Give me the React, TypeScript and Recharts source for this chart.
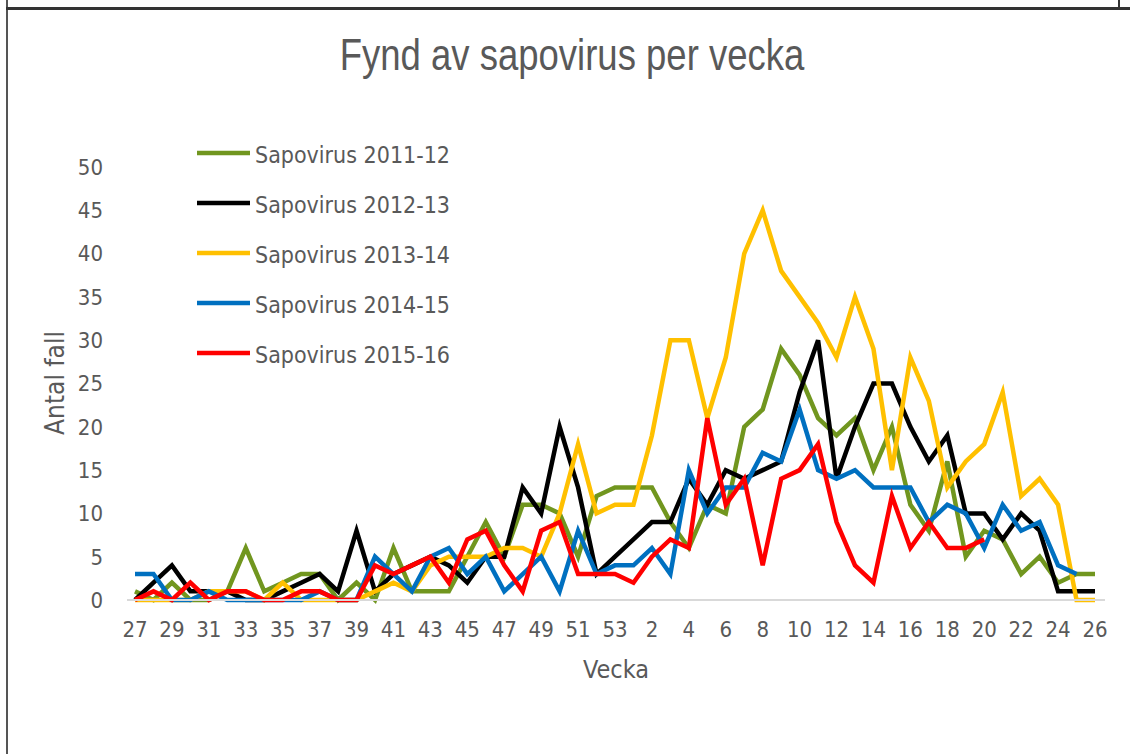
import { LineChart, Line, XAxis, YAxis, Legend } from 'recharts';

// veckor 27-53, sedan 1-26
const weeks = [
  '27', '28', '29', '30', '31', '32', '33', '34', '35', '36', '37', '38', '39', '40',
  '41', '42', '43', '44', '45', '46', '47', '48', '49', '50', '51', '52', '53',
  '1', '2', '3', '4', '5', '6', '7', '8', '9', '10', '11', '12', '13', '14', '15',
  '16', '17', '18', '19', '20', '21', '22', '23', '24', '25', '26',
];

const sapo1112 = [
  1, 0, 2, 0, 0, 1, 6, 1, 2, 3, 3, 0, 2, 0, 6, 1, 1, 1, 5, 9, 5, 11, 11, 10, 5, 12, 13,
  13, 13, 9, 6, 11, 10, 20, 22, 29, 26, 21, 19, 21, 15, 20, 11, 8, 16, 5, 8, 7, 3, 5, 2, 3, 3,
];
const sapo1213 = [
  0, 2, 4, 1, 1, 1, 0, 0, 1, 2, 3, 1, 8, 1, 3, 4, 5, 4, 2, 5, 5, 13, 10, 20, 13, 3, 5,
  7, 9, 9, 14, 11, 15, 14, 15, 16, 24, 30, 14, 20, 25, 25, 20, 16, 19, 10, 10, 7, 10, 8, 1, 1, 1,
];
const sapo1314 = [
  0, 0, 0, 0, 1, 1, 1, 0, 2, 0, 0, 0, 0, 1, 2, 1, 4, 5, 5, 5, 6, 6, 5, 10, 18, 10, 11,
  11, 19, 30, 30, 21, 28, 40, 45, 38, 35, 32, 28, 35, 29, 15, 28, 23, 13, 16, 18, 24, 12, 14, 11, 0, 0,
];
const sapo1415 = [
  3, 3, 0, 0, 1, 0, 0, 0, 0, 0, 1, 0, 0, 5, 3, 1, 5, 6, 3, 5, 1, 3, 5, 1, 8, 3, 4,
  4, 6, 3, 15, 10, 13, 13, 17, 16, 22, 15, 14, 15, 13, 13, 13, 9, 11, 10, 6, 11, 8, 9, 4, 3, null,
];
const sapo1516 = [
  0, 1, 0, 2, 0, 1, 1, 0, 0, 1, 1, 0, 0, 4, 3, 4, 5, 2, 7, 8, 4, 1, 8, 9, 3, 3, 3,
  2, 5, 7, 6, 21, 11, 14, 4, 14, 15, 18, 9, 4, 2, 12, 6, 9, 6, 6, 7,
  null, null, null, null, null, null,
];

const yTicks = [0, 5, 10, 15, 20, 25, 30, 35, 40, 45, 50];

const series = [
  { key: 's1112', name: 'Sapovirus 2011-12', color: '#71961f', values: sapo1112 },
  { key: 's1213', name: 'Sapovirus 2012-13', color: '#000000', values: sapo1213 },
  { key: 's1314', name: 'Sapovirus 2013-14', color: '#ffc000', values: sapo1314 },
  { key: 's1415', name: 'Sapovirus 2014-15', color: '#0070c0', values: sapo1415 },
  { key: 's1516', name: 'Sapovirus 2015-16', color: '#ff0000', values: sapo1516 },
];

const data = weeks.map((week, i) => {
  const row: Record<string, string | number | null> = { week };
  series.forEach((s) => {
    row[s.key] = s.values[i];
  });
  return row;
});

const FONT = '"DejaVu Sans Condensed", "DejaVu Sans", sans-serif';
const TEXT = '#595959';

function LegendBox() {
  return (
    <svg width={300} height={250}>
      {series.map((s, i) => (
        <g key={s.key}>
          <line x1={7} x2={60} y1={17 + i * 50} y2={17 + i * 50} stroke={s.color} strokeWidth={4.5} />
          <text x={65} y={27 + i * 50} fontSize={23} fontFamily={FONT} fill={TEXT}>
            {s.name}
          </text>
        </g>
      ))}
    </svg>
  );
}

export default function App() {
  return (
    <div style={{ position: 'absolute', left: 0, top: 0, width: 1130, height: 754, background: '#fff', overflow: 'hidden' }}>
      {/* ram */}
      <div style={{ position: 'absolute', left: 6, top: 0, width: 2, height: 754, background: '#555' }} />
      <div style={{ position: 'absolute', left: 6, top: 7, width: 1124, height: 3, background: '#333' }} />
      <div style={{ position: 'absolute', left: 1118, top: 0, width: 2, height: 8, background: '#333' }} />
      <div
        style={{
          position: 'absolute',
          left: 572,
          top: 34,
          transform: 'translateX(-50%) scaleY(1.2)',
          transformOrigin: 'center top',
          whiteSpace: 'nowrap',
          fontFamily: '"Liberation Sans", Arial, sans-serif',
          fontSize: 36.5,
          lineHeight: '36px',
          color: TEXT,
        }}
      >
        Fynd av sapovirus per vecka
      </div>
      <div style={{ position: 'absolute', left: 0, top: 0 }}>
        <LineChart width={1130} height={754} data={data} margin={{ top: 167, right: 25, bottom: 94, left: 0 }}>
          <XAxis
            dataKey="week"
            interval={1}
            padding={{ left: 8, right: 10 }}
            axisLine={{ stroke: '#d9d9d9', strokeWidth: 2 }}
            tickLine={false}
            tickMargin={15}
            height={60}
            tick={{ fill: TEXT, fontSize: 22, fontFamily: FONT }}
            label={{
              content: () => (
                <text x={616} y={678} textAnchor="middle" fontSize={25} fontFamily={FONT} fill={TEXT}>
                  Vecka
                </text>
              ),
            }}
          />
          <YAxis
            domain={[0, 50]}
            ticks={yTicks}
            width={127}
            axisLine={false}
            tickLine={false}
            tickMargin={18}
            tick={{ fill: TEXT, fontSize: 22, fontFamily: FONT }}
            label={{
              content: () => (
                <text
                  x={55}
                  y={383}
                  transform="rotate(-90 55 383)"
                  textAnchor="middle"
                  dominantBaseline="central"
                  fontSize={26}
                  fontFamily={FONT}
                  fill={TEXT}
                >
                  Antal fall
                </text>
              ),
            }}
          />
          <Legend
            layout="horizontal"
            verticalAlign="middle"
            align="center"
            content={() => <LegendBox />}
            wrapperStyle={{ left: 190, top: 136, width: 300, height: 250 }}
          />
          {series.map((s) => (
            <Line
              key={s.key}
              type="linear"
              dataKey={s.key}
              name={s.name}
              stroke={s.color}
              strokeWidth={4.5}
              dot={false}
              activeDot={false}
              isAnimationActive={false}
            />
          ))}
        </LineChart>
      </div>
    </div>
  );
}
